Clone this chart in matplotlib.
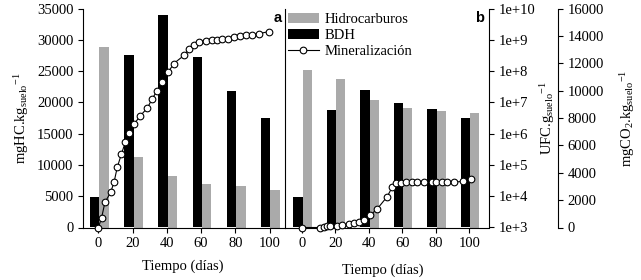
import matplotlib
matplotlib.use('Agg')
import matplotlib.pyplot as plt
from matplotlib.patches import Patch
from matplotlib.lines import Line2D
from matplotlib.ticker import FixedLocator, FixedFormatter, NullLocator
import numpy as np

matplotlib.rcParams['font.family'] = 'serif'
matplotlib.rcParams['font.serif'] = ['Liberation Serif', 'DejaVu Serif']
matplotlib.rcParams['mathtext.fontset'] = 'custom'
matplotlib.rcParams['mathtext.rm'] = 'Liberation Serif'
matplotlib.rcParams['mathtext.it'] = 'Liberation Serif:italic'
matplotlib.rcParams['font.size'] = 10.5

# Data
days = [0, 20, 40, 60, 80, 100]

# panel a
hc_a = [28800, 11300, 8200, 6950, 6650, 6000]            # mgHC/kg suelo
bdh_a = [8.7e3, 3.2e8, 6.2e9, 2.8e8, 2.3e7, 3.2e6]         # UFC/g suelo
min_a_days = [0, 1.9, 3.8, 7.1, 9.1, 11, 13.4, 15.7, 17.8, 20.8, 24.3, 28.6,
              31.5, 34.2, 37.3, 40.8, 44, 50, 52.9, 55.7, 58.6, 62.7, 66.4,
              69.1, 72.4, 75.5, 79, 82.7, 86, 90, 94, 99.5]
min_a = [0, 730, 1830, 2560, 3290, 4390, 5350, 6220, 6900, 7540, 8140, 8730,
         9420, 9970, 10650, 11340, 11980, 12570, 13030, 13350, 13580, 13650,
         13690, 13690, 13740, 13760, 13900, 13990, 14030, 14080, 14170, 14310]

# panel b
hc_b = [25100, 23700, 20400, 19050, 18600, 18250]
bdh_b = [8.6e3, 5.7e6, 2.5e7, 9.3e6, 6.1e6, 3.1e6]
min_b_days = [0, 11, 13, 15, 17, 21, 24, 28, 31, 34, 37, 41, 45, 51, 54, 56,
              59, 62, 66, 69, 73, 78, 80, 84, 87, 91, 96, 101]
min_b = [0, 0, 60, 110, 130, 130, 180, 255, 300, 425, 550, 910, 1350, 2250,
         2940, 3270, 3270, 3300, 3320, 3300, 3300, 3320, 3320, 3300, 3300,
         3300, 3380, 3540]

ufc_exp = list(range(3, 11))

gray = '#aaaaaa'
bw = 5.5
msize = 4.8

fig = plt.figure(figsize=(6.41, 2.80), dpi=100)
bot = 1 - 227.5 / 280
hgt = 219 / 280
ax_a = fig.add_axes([83 / 641, bot, 202 / 641, hgt])
ax_b = fig.add_axes([285 / 641, bot, 204.3 / 641, hgt])
ax_a.patch.set_visible(False)
ax_b.patch.set_visible(False)


def panel(ax, hc, bdh, mdays, mvals, xlim, show_right):
    x = np.array(days)
    ax.bar(x + 0.5, hc, width=bw, align='edge', color=gray, linewidth=0)
    ax.set_ylim(0, 35000)
    ax.set_xlim(*xlim)
    ax.set_xticks(days)
    ax.spines['top'].set_visible(False)
    ax.tick_params(direction='out', length=3.5, width=0.8, colors='black')

    axl = ax.twinx()
    axl.set_yscale('log')
    axl.bar(x + 0.5, bdh, width=-bw, align='edge', color='black',
            linewidth=0, bottom=1e3)
    axl.set_ylim(1e3, 1e10)
    axl.yaxis.set_minor_locator(NullLocator())

    axc = ax.twinx()
    axc.plot(mdays, mvals, '-o', color='black', linewidth=0.8,
             markersize=msize, markerfacecolor='white', markeredgecolor='black',
             markeredgewidth=0.8, clip_on=False, zorder=5)
    axc.set_ylim(0, 16000)
    for s in axl.spines.values():
        s.set_visible(False)
    for s in axc.spines.values():
        s.set_visible(False)
    if show_right:
        axl.spines['right'].set_visible(True)
        axl.spines['right'].set_linewidth(0.8)
        axl.yaxis.set_major_locator(FixedLocator([10.0 ** k for k in ufc_exp]))
        axl.yaxis.set_major_formatter(FixedFormatter([f'1e+{k}' for k in ufc_exp]))
        axl.tick_params(axis='y', direction='out', length=3.5, width=0.8)
        axc.spines['right'].set_visible(True)
        axc.spines['right'].set_linewidth(0.8)
        axc.spines['right'].set_position(('axes', (558 - 285) / 204.3))
        axc.set_yticks(np.arange(0, 16001, 2000))
        axc.tick_params(axis='y', direction='out', length=3.5, width=0.8)
    else:
        axl.tick_params(right=False, labelright=False)
        axc.tick_params(right=False, labelright=False)
    return axl, axc


panel(ax_a, hc_a, bdh_a, min_a_days, min_a, (-9, 109), False)
ax_a.set_yticks(np.arange(0, 35001, 5000))
ax_a.tick_params(axis='y', right=False)
for side in ('right', 'left', 'bottom'):
    ax_a.spines[side].set_linewidth(0.8)
ax_a.spines['right'].set_zorder(10)

panel(ax_b, hc_b, bdh_b, min_b_days, min_b, (-10, 112), True)
ax_b.spines['left'].set_visible(False)
ax_b.spines['right'].set_visible(False)
ax_b.spines['bottom'].set_linewidth(0.8)
ax_b.tick_params(axis='y', left=False, labelleft=False)

# panel letters
ax_a.text(0.985, 0.955, 'a', transform=ax_a.transAxes, ha='right', va='center',
          fontsize=10.5, fontweight='bold', family='Liberation Sans')
ax_b.text(0.975, 0.955, 'b', transform=ax_b.transAxes, ha='right', va='center',
          fontsize=10.5, fontweight='bold', family='Liberation Sans')

handles = [Patch(facecolor=gray, edgecolor='none', label='Hidrocarburos'),
           Patch(facecolor='black', edgecolor='none', label='BDH'),
           Line2D([], [], color='black', linewidth=0.8, marker='o', markersize=msize,
                  markerfacecolor='white', markeredgewidth=0.8,
                  label='Mineralización')]
leg = ax_b.legend(handles=handles, loc='upper left', bbox_to_anchor=(0.0, 0.995),
                  frameon=False, handlelength=2.1, handleheight=0.7,
                  handletextpad=0.45, labelspacing=0.2, borderaxespad=0,
                  borderpad=0.2)

# axis labels
fig.text(22 / 641, 1 - 118 / 280, r'mgHC.kg$_{\mathrm{suelo}}$$^{\mathrm{-1}}$',
         rotation=90, ha='center', va='center')
fig.text(548 / 641, 1 - 118 / 280, r'UFC.g$_{\mathrm{suelo}}$$^{\mathrm{-1}}$',
         rotation=90, ha='center', va='center')
fig.text(628 / 641, 1 - 118 / 280, r'mgCO$_{\mathrm{2}}$.kg$_{\mathrm{suelo}}$$^{\mathrm{-1}}$',
         rotation=90, ha='center', va='center')
fig.text(183 / 641, 1 - 266 / 280, 'Tiempo (días)', ha='center', va='center')
fig.text(383 / 641, 1 - 270 / 280, 'Tiempo (días)', ha='center', va='center')

fig.savefig('out.png', dpi=100, facecolor='white')
